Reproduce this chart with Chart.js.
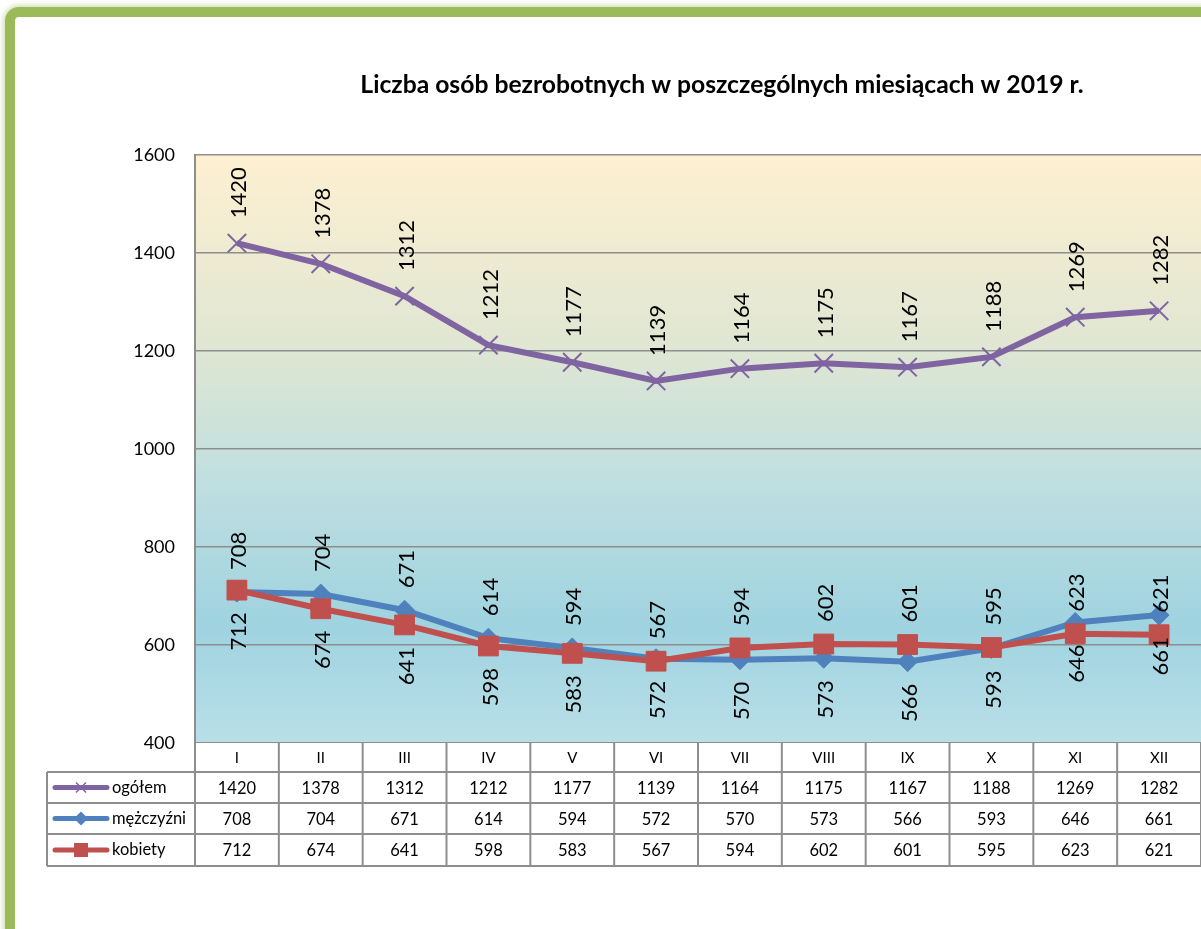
<!DOCTYPE html>
<html>
<head>
<meta charset="utf-8">
<script src="https://cdn.jsdelivr.net/npm/chart.js@4/dist/chart.umd.min.js"></script>
<style>
  html, body { margin: 0; padding: 0; background: #fff; overflow: hidden; }
  #frame {
    position: absolute; left: 5px; top: 7px; width: 1300px; height: 1000px;
    border: 10px solid #9bbb59; border-radius: 14px; background: #fff;
    box-shadow: 0 0 5px 2px rgba(155, 187, 89, 0.45);
  }
  #myChart { position: absolute; left: 0; top: 0; }
</style>
</head>
<body>
<div id="frame"></div>
<canvas id="myChart" width="1201" height="929"></canvas>
<script>
// Data
const months = ['I', 'II', 'III', 'IV', 'V', 'VI', 'VII', 'VIII', 'IX', 'X', 'XI', 'XII'];
const ogolem = [1420, 1378, 1312, 1212, 1177, 1139, 1164, 1175, 1167, 1188, 1269, 1282];
const mezczyzni = [708, 704, 671, 614, 594, 572, 570, 573, 566, 593, 646, 661];
const kobiety = [712, 674, 641, 598, 583, 567, 594, 602, 601, 595, 623, 621];
const yTicks = [400, 600, 800, 1000, 1200, 1400, 1600];

const titleText = 'Liczba osób bezrobotnych w poszczególnych miesiącach w 2019 r.';
const FONT = 'Lato, "Open Sans", sans-serif';
const purple = '#8064a2', blue = '#4f81bd', red = '#c0504d', gridGray = '#8e8e8e';

// gradient background of the plot area
const plotBackground = {
    id: 'plotBackground',
    beforeDraw(chart) {
        const { ctx, chartArea: a } = chart;
        const g = ctx.createLinearGradient(0, a.top, 0, a.bottom);
        g.addColorStop(0, '#fef0d1');
        g.addColorStop(0.33, '#dfe6d3');
        g.addColorStop(0.55, '#c1dfe0');
        g.addColorStop(0.8, '#9fd3e0');
        g.addColorStop(1, '#b9dfe8');
        ctx.save();
        ctx.fillStyle = g;
        ctx.fillRect(a.left, a.top, a.right - a.left, a.bottom - a.top);
        ctx.restore();
    }
};

// title, fitted to the width it takes in the original
const titlePlugin = {
    id: 'titlePlugin',
    afterDraw(chart) {
        const ctx = chart.ctx;
        ctx.save();
        ctx.font = 'bold 20px ' + FONT;
        const size = Math.min(26, 20 * 723 / ctx.measureText(titleText).width);
        ctx.font = 'bold ' + size.toFixed(1) + 'px ' + FONT;
        ctx.fillStyle = '#000';
        ctx.textAlign = 'center';
        ctx.textBaseline = 'alphabetic';
        ctx.fillText(titleText, 722, 93);
        ctx.restore();
    }
};

// rotated value labels
function vText(ctx, text, x, y, above) {
    ctx.save();
    ctx.translate(x + 2, y);
    ctx.rotate(-Math.PI / 2);
    ctx.textAlign = above ? 'left' : 'right';
    ctx.textBaseline = 'middle';
    ctx.fillText(text, 0, 0);
    ctx.restore();
}

const valueLabels = {
    id: 'valueLabels',
    afterDatasetsDraw(chart) {
        const { ctx } = chart;
        const x = chart.scales.x, y = chart.scales.y;
        ctx.save();
        ctx.font = '22px ' + FONT;
        ctx.fillStyle = '#000';
        months.forEach((m, i) => {
            const px = x.getPixelForValue(i);
            vText(ctx, String(ogolem[i]), px, y.getPixelForValue(ogolem[i]) - 25, true);
            const mAbove = i < 5;
            const my = y.getPixelForValue(mezczyzni[i]);
            const ky = y.getPixelForValue(kobiety[i]);
            vText(ctx, String(mezczyzni[i]), px, mAbove ? my - 22 : my + 22, mAbove);
            vText(ctx, String(kobiety[i]), px, mAbove ? ky + 22 : ky - 22, !mAbove);
        });
        ctx.restore();
    }
};

// data table below the plot
function legendMark(ctx, kind, color, cx, cy) {
    ctx.fillStyle = color;
    ctx.strokeStyle = color;
    if (kind === 'x') {
        ctx.lineWidth = 1.5;
        ctx.beginPath();
        ctx.moveTo(cx - 5, cy - 5); ctx.lineTo(cx + 5, cy + 5);
        ctx.moveTo(cx + 5, cy - 5); ctx.lineTo(cx - 5, cy + 5);
        ctx.stroke();
    } else if (kind === 'diamond') {
        ctx.beginPath();
        ctx.moveTo(cx, cy - 7); ctx.lineTo(cx + 7, cy); ctx.lineTo(cx, cy + 7); ctx.lineTo(cx - 7, cy);
        ctx.closePath();
        ctx.fill();
    } else {
        ctx.fillRect(cx - 7, cy - 7, 14, 14);
    }
}

const dataTable = {
    id: 'dataTable',
    afterDraw(chart) {
        const { ctx, chartArea: a } = chart;
        const x = chart.scales.x;
        const colW = (a.right - a.left) / months.length;
        const rows = [a.bottom, a.bottom + 29, a.bottom + 60, a.bottom + 91, a.bottom + 123];
        const legLeft = 47;
        const series = [
            { name: 'ogółem', data: ogolem, color: purple, mark: 'x' },
            { name: 'mężczyźni', data: mezczyzni, color: blue, mark: 'diamond' },
            { name: 'kobiety', data: kobiety, color: red, mark: 'square' }
        ];
        ctx.save();
        // white cells
        ctx.fillStyle = '#fff';
        ctx.fillRect(a.left, rows[0], a.right - a.left, rows[1] - rows[0]);
        ctx.fillRect(legLeft, rows[1], a.right - legLeft, rows[4] - rows[1]);
        // grid
        ctx.strokeStyle = gridGray;
        ctx.lineWidth = 2;
        ctx.beginPath();
        for (let r = 1; r < rows.length; r++) {
            ctx.moveTo(legLeft, rows[r]); ctx.lineTo(a.right, rows[r]);
        }
        ctx.moveTo(legLeft, rows[1]); ctx.lineTo(legLeft, rows[4]);
        for (let c = 0; c <= months.length; c++) {
            const cx = a.left + c * colW;
            ctx.moveTo(cx, rows[0]); ctx.lineTo(cx, rows[4]);
        }
        ctx.stroke();
        // header
        ctx.fillStyle = '#000';
        ctx.textAlign = 'center';
        ctx.textBaseline = 'middle';
        ctx.font = '15px ' + FONT;
        months.forEach((m, i) => ctx.fillText(m, x.getPixelForValue(i), (rows[0] + rows[1]) / 2 + 1));
        // rows
        ctx.font = '16.5px ' + FONT;
        series.forEach((s, r) => {
            const cy = (rows[r + 1] + rows[r + 2]) / 2 + 1;
            ctx.fillStyle = '#000';
            ctx.textAlign = 'center';
            s.data.forEach((v, i) => ctx.fillText(String(v), x.getPixelForValue(i), cy));
            ctx.textAlign = 'left';
            ctx.fillText(s.name, 112, cy - 1);
            ctx.strokeStyle = s.color;
            ctx.lineWidth = 5;
            ctx.lineCap = 'round';
            ctx.beginPath();
            ctx.moveTo(55, cy - 1); ctx.lineTo(107, cy - 1);
            ctx.stroke();
            ctx.lineCap = 'butt';
            legendMark(ctx, s.mark, s.color, 81, cy - 1);
        });
        ctx.restore();
    }
};

const ctx = document.getElementById('myChart').getContext('2d');

const myChart = new Chart(ctx, {
    type: 'line',
    data: {
        labels: months,
        datasets: [
            {
                label: 'ogółem',
                data: ogolem,
                borderColor: purple,
                backgroundColor: purple,
                borderWidth: 6,
                pointStyle: 'crossRot',
                pointRadius: 13,
                pointBorderWidth: 2,
                order: 3
            },
            {
                label: 'mężczyźni',
                data: mezczyzni,
                borderColor: blue,
                backgroundColor: blue,
                borderWidth: 6,
                pointStyle: 'rectRot',
                pointRadius: 10,
                pointBorderWidth: 1,
                order: 2
            },
            {
                label: 'kobiety',
                data: kobiety,
                borderColor: red,
                backgroundColor: red,
                borderWidth: 6,
                pointStyle: 'rect',
                pointRadius: 14,
                pointBorderWidth: 1,
                order: 1
            }
        ]
    },
    options: {
        responsive: false,
        animation: false,
        devicePixelRatio: 1,
        layout: { autoPadding: false, padding: { top: 155, bottom: 186, left: 0, right: 0 } },
        plugins: {
            legend: { display: false },
            title: { display: false },
            tooltip: { enabled: false }
        },
        elements: { line: { tension: 0 } },
        scales: {
            x: {
                display: false,
                offset: true
            },
            y: {
                min: 400,
                max: 1600,
                afterFit: s => { s.width = 195; },
                afterBuildTicks: s => { s.ticks = yTicks.map(v => ({ value: v })); },
                ticks: {
                    color: '#000',
                    padding: 20,
                    font: { family: FONT, size: 18 },
                    callback: v => String(v)
                },
                grid: {
                    color: gridGray,
                    lineWidth: 1.5,
                    drawTicks: false
                },
                border: { color: gridGray, width: 2 }
            }
        }
    },
    plugins: [plotBackground, valueLabels, dataTable, titlePlugin]
});
</script>
</body>
</html>
